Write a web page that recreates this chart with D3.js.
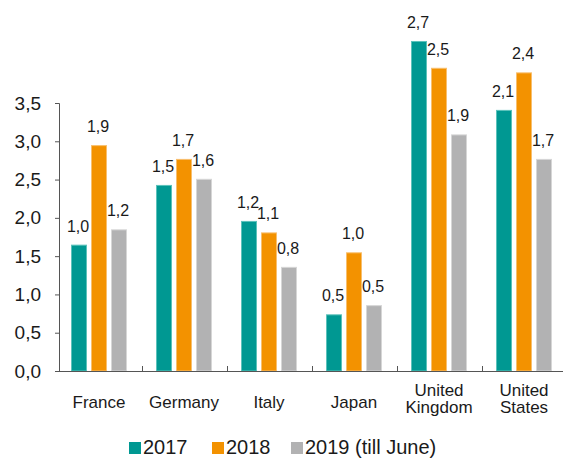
<!DOCTYPE html>
<html>
<head>
<meta charset="utf-8">
<script src="https://cdn.jsdelivr.net/npm/d3@7"></script>
<style>
  body { margin: 0; background: #fff; }
  svg text { font-family: "Liberation Sans", Arial, sans-serif; fill: #1a1a1a; }
</style>
</head>
<body>
<svg id="chart" width="563" height="458"></svg>
<script>
// categories and series
const countries = ["France", "Germany", "Italy", "Japan", "United Kingdom", "United States"];
const seriesNames = ["2017", "2018", "2019 (till June)"];
const seriesColors = ["#009892", "#f39200", "#b2b2b3"];
const seriesEdges = ["#5cc2bb", "#f8bf6e", "#d6d6d6"];

// bar heights as read against the left axis
const bars2017 = [1.65, 2.43, 1.96, 0.74, 4.31, 3.41];
const bars2018 = [2.95, 2.77, 1.81, 1.55, 3.96, 3.90];
const bars2019 = [1.85, 2.51, 1.36, 0.86, 3.09, 2.77];

// printed value labels
const labels2017 = ["1,0", "1,5", "1,2", "0,5", "2,7", "2,1"];
const labels2018 = ["1,9", "1,7", "1,1", "1,0", "2,5", "2,4"];
const labels2019 = ["1,2", "1,6", "0,8", "0,5", "1,9", "1,7"];

const yTicks = [0, 0.5, 1, 1.5, 2, 2.5, 3, 3.5];

const barSets = [bars2017, bars2018, bars2019];
const labelSets = [labels2017, labels2018, labels2019];

const svg = d3.select("#chart");

const x0 = d3.scaleBand().domain(countries).range([58, 568]);
const x1 = d3.scaleBand().domain(seriesNames).range([0, 56]).paddingInner(0.2);
const y = d3.scaleLinear().domain([0, 3.5]).range([371, 103]);
const groupOffset = 13;

// bars
seriesNames.forEach((s, si) => {
  svg.append("g").selectAll("rect")
    .data(countries)
    .enter()
    .append("rect")
    .attr("x", (d) => x0(d) + groupOffset + x1(s) + 0.5)
    .attr("width", x1.bandwidth() - 1)
    .attr("y", (d, i) => y(barSets[si][i]) + 0.5)
    .attr("height", (d, i) => y(0) - y(barSets[si][i]) - 0.5)
    .attr("fill", seriesColors[si])
    .attr("stroke", seriesEdges[si])
    .attr("stroke-width", 1);

  svg.append("g").selectAll("text")
    .data(countries)
    .enter()
    .append("text")
    .attr("x", (d) => x0(d) + groupOffset + x1(s) + x1.bandwidth() / 2 - 1)
    .attr("y", (d, i) => y(barSets[si][i]) - 13)
    .attr("text-anchor", "middle")
    .style("font-size", "16px")
    .text((d, i) => labelSets[si][i]);
});

// y axis
const yAxis = d3.axisLeft(y)
  .tickValues(yTicks)
  .tickSize(4)
  .tickPadding(14)
  .tickFormat((d) => d3.format(".1f")(d).replace(".", ","));

const gy = svg.append("g").attr("transform", "translate(59,0)").call(yAxis);
gy.select(".domain").attr("stroke", "#555").attr("d", "M-4,103.5H0.5V371.5");
gy.selectAll(".tick line").attr("stroke", "#555");
gy.selectAll(".tick text").style("font-size", "19px").attr("fill", "#1a1a1a");

// x axis line + inward ticks at category boundaries
svg.append("line")
  .attr("x1", 59).attr("x2", 563)
  .attr("y1", 371.5).attr("y2", 371.5)
  .attr("stroke", "#555");

svg.append("g").selectAll("line")
  .data(countries.slice(1))
  .enter()
  .append("line")
  .attr("x1", (d) => x0(d) - 0.5)
  .attr("x2", (d) => x0(d) - 0.5)
  .attr("y1", 366)
  .attr("y2", 372)
  .attr("stroke", "#555");

// category labels
const catLabels = svg.append("g").selectAll("text")
  .data(countries)
  .enter()
  .append("text")
  .attr("text-anchor", "middle")
  .style("font-size", "17px")
  .attr("transform", (d) => "translate(" + (x0(d) + groupOffset + 28) + ",0)");

catLabels.each(function (d) {
  const words = d.split(" ");
  const t = d3.select(this);
  if (words.length === 1) {
    t.append("tspan").attr("x", 0).attr("y", 408).text(d);
  } else {
    t.append("tspan").attr("x", 0).attr("y", 396).text(words[0]);
    t.append("tspan").attr("x", 0).attr("y", 413).text(words[1]);
  }
});

// legend
const legendX = [129, 212, 291];
const legend = svg.append("g").selectAll("g")
  .data(seriesNames)
  .enter()
  .append("g")
  .attr("transform", (d, i) => "translate(" + legendX[i] + ",442)");

legend.append("rect")
  .attr("width", 12)
  .attr("height", 12)
  .attr("fill", (d, i) => seriesColors[i]);

legend.append("text")
  .attr("x", 14)
  .attr("y", 12)
  .style("font-size", "20px")
  .text((d) => d);
</script>
</body>
</html>
